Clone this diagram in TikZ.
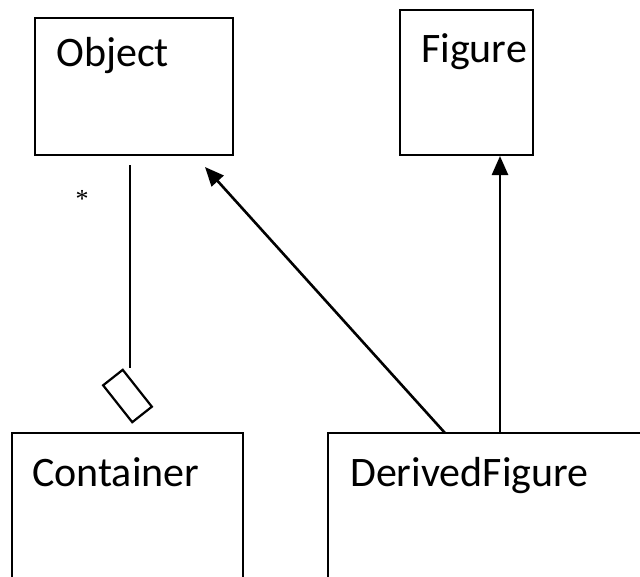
\documentclass[tikz,border=0pt]{standalone}
\usepackage{fontspec}
\setmainfont{Carlito}
\newfontfamily\astfont{Liberation Serif}
\usetikzlibrary{arrows.meta}
\tikzset{
  cls/.style={draw=black, line width=2pt, rectangle, inner sep=0pt},
  lbl/.style={anchor=base west, inner sep=0pt, font=\fontsize{42}{50}\selectfont},
  conn/.style={draw=black, line width=2.6pt},
  inh/.style={conn, -{Triangle[length=19pt, width=16pt]}},
}
\begin{document}
\begin{tikzpicture}[x=1pt, y=-1pt]
\useasboundingbox (0,0) rectangle (640,576);
\clip (0,0) rectangle (640,576);
\fill[white] (0,0) rectangle (640,576);
% class boxes
\node[cls, minimum width=198pt, minimum height=137pt] (obj) at (134,86.5) {};
\node[cls, minimum width=133pt, minimum height=145pt] (fig) at (466,82.5) {};
\node[cls, minimum width=231pt, minimum height=180pt] (cont) at (127.5,523) {};
\node[cls, minimum width=340pt, minimum height=180pt] (der) at (498,523) {};
% labels
\node[lbl] (objt) at (56,66) {Object};
\node[lbl] (figt) at (421,62) {Figure};
\node[lbl] (contt) at (32,486) {Container};
\node[lbl] (dert) at (350,486) {DerivedFigure};
% aggregation end
\node[draw=black, line width=2.2pt, rectangle, minimum width=47pt, minimum height=25pt, inner sep=0pt, rotate=-51.7] (agg) at (127.5,396) {};
\coordinate (aggtop) at (130,165);
\draw[conn] (aggtop) -- (aggtop |- agg.north west);
\node[font=\astfont\fontsize{26}{30}\selectfont, inner sep=0pt] (star) at (82,199) {*};
% generalisations
\coordinate (d1) at (445,433);
\coordinate (o1) at (205,167);
\draw[inh] (d1) -- (o1);
\coordinate (d2) at (500,433);
\draw[inh] (d2) -- (d2 |- fig.south);
\end{tikzpicture}
\end{document}
